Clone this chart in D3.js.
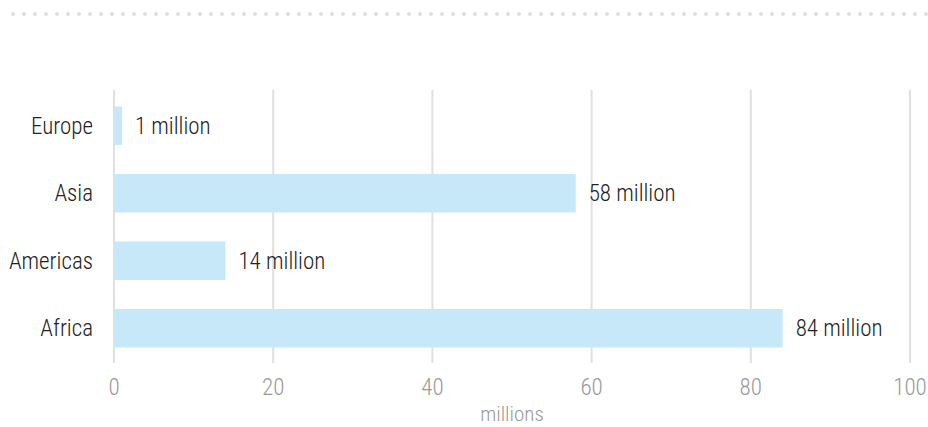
<!DOCTYPE html>
<html>
<head>
<meta charset="utf-8">
<script src="https://cdn.jsdelivr.net/npm/d3@7"></script>
<style>
  body { margin: 0; background: #fff; }
  text { font-family: "Roboto Condensed", "Liberation Sans Narrow", "DejaVu Sans Condensed", Roboto, sans-serif; font-weight: 300; }
</style>
</head>
<body>
<div id="chart"></div>
<script>
const regions = ["Europe", "Asia", "Americas", "Africa"];
const values = [1, 58, 14, 84];
const xTicks = [0, 20, 40, 60, 80, 100];

const width = 928, height = 427;
const margin = { top: 91, right: 18, bottom: 64, left: 114 };

const svg = d3.select("#chart").append("svg")
    .attr("width", width)
    .attr("height", height);

// dotted rule at the top
const dots = d3.range(13, width, 11);
svg.append("g").selectAll("circle")
    .data(dots)
    .join("circle")
    .attr("cx", d => d)
    .attr("cy", 14)
    .attr("r", 2)
    .attr("fill", "#dedede");

const x = d3.scaleLinear()
    .domain([0, 100])
    .range([margin.left, width - margin.right]);

const y = d3.scaleBand()
    .domain(regions)
    .range([margin.top, height - margin.bottom])
    .paddingInner(0.43)
    .paddingOuter(0.23);

// gridlines
svg.append("g").selectAll("line")
    .data(xTicks)
    .join("line")
    .attr("x1", d => x(d))
    .attr("x2", d => x(d))
    .attr("y1", margin.top - 1)
    .attr("y2", height - margin.bottom)
    .attr("stroke", "#e0e0e0")
    .attr("stroke-width", 2);

// bars
svg.append("g").selectAll("rect")
    .data(regions)
    .join("rect")
    .attr("x", x(0))
    .attr("y", d => y(d))
    .attr("width", (d, i) => x(values[i]) - x(0))
    .attr("height", y.bandwidth())
    .attr("fill", "#c6e8f8");

// value labels
svg.append("g").selectAll("text")
    .data(regions)
    .join("text")
    .attr("x", (d, i) => x(values[i]) + 13)
    .attr("y", d => y(d) + y.bandwidth() / 2)
    .attr("dy", "0.35em")
    .attr("font-size", 23)
    .attr("fill", "#222")
    .text((d, i) => values[i] + " million");

// y axis labels
svg.append("g").selectAll("text")
    .data(regions)
    .join("text")
    .attr("x", margin.left - 21)
    .attr("y", d => y(d) + y.bandwidth() / 2)
    .attr("dy", "0.35em")
    .attr("text-anchor", "end")
    .attr("font-size", 23)
    .attr("fill", "#222")
    .text(d => d);

// x tick labels
svg.append("g").selectAll("text")
    .data(xTicks)
    .join("text")
    .attr("x", d => x(d))
    .attr("y", 387)
    .attr("dy", "0.35em")
    .attr("text-anchor", "middle")
    .attr("font-size", 23)
    .attr("fill", "#999")
    .text(d => d);

svg.append("text")
    .attr("x", x(50))
    .attr("y", 414)
    .attr("dy", "0.35em")
    .attr("text-anchor", "middle")
    .attr("font-size", 21)
    .attr("fill", "#999")
    .text("millions");
</script>
</body>
</html>
